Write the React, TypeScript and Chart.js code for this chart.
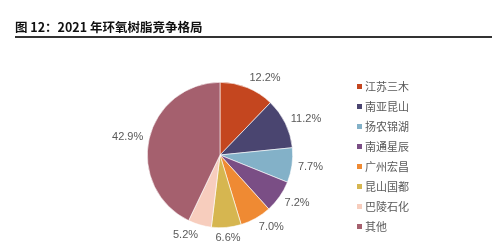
import React, { useEffect, useRef } from "react";
import { Chart, registerables } from "chart.js";

Chart.register(...registerables);

const TITLE = "图 12：2021 年环氧树脂竞争格局";
const companies = ["江苏三木", "南亚昆山", "扬农锦湖", "南通星辰", "广州宏昌", "昆山国都", "巴陵石化", "其他"];
const shares = [12.2, 11.2, 7.7, 7.2, 7.0, 6.6, 5.2, 42.9];
const colors = ["#C4461F", "#4A4570", "#83B1C8", "#7A4E85", "#EF8A33", "#D6B650", "#F7CDBD", "#A5606E"];

const labelPlugin = {
  id: "outLabels",
  afterDatasetsDraw(chart: any) {
    const ctx = chart.ctx;
    const meta = chart.getDatasetMeta(0);
    ctx.save();
    ctx.font = "11px 'Liberation Sans', Arial, sans-serif";
    ctx.fillStyle = "#595959";
    ctx.textAlign = "center";
    ctx.textBaseline = "middle";
    meta.data.forEach((arc: any, i: number) => {
      const p = arc.getProps(["x", "y", "startAngle", "endAngle", "outerRadius"], true);
      const a = (p.startAngle + p.endAngle) / 2;
      const txt = shares[i].toFixed(1) + "%";
      const w = ctx.measureText(txt).width;
      const h = 9;
      const dx = Math.cos(a);
      const dy = Math.sin(a);
      const R = p.outerRadius + 6;
      const ax = p.x + dx * R;
      const ay = p.y + dy * R;
      const kx = Math.abs(dx) < 0.2 ? dx : Math.sign(dx);
      ctx.fillText(txt, ax + (kx * w) / 2, ay + (dy * h) / 2);
    });
    ctx.restore();
  },
};

export default function App() {
  const ref = useRef<HTMLCanvasElement>(null);
  useEffect(() => {
    if (!ref.current) return;
    const chart = new Chart(ref.current, {
      type: "pie",
      data: {
        labels: companies,
        datasets: [
          {
            data: shares,
            backgroundColor: colors,
            borderColor: "#ffffff",
            borderWidth: 0.6,
          },
        ],
      },
      options: {
        responsive: false,
        animation: false,
        layout: { padding: { left: 147, right: 205, top: 82, bottom: 18 } },
        plugins: {
          legend: { display: false },
          tooltip: { enabled: false },
          title: { display: false },
        },
      },
      plugins: [labelPlugin],
    });
    return () => chart.destroy();
  }, []);

  return (
    <div
      style={{
        position: "fixed",
        left: 0,
        top: 0,
        width: 498,
        height: 246,
        background: "#ffffff",
        overflow: "hidden",
      }}
    >
      <canvas ref={ref} width={498} height={246} style={{ position: "absolute", left: 0, top: 0, width: 498, height: 246 }} />
      <div
        style={{
          position: "absolute",
          left: 15,
          top: 19,
          font: "bold 12.5px 'Noto Sans CJK SC', sans-serif",
          color: "#111",
          lineHeight: "16px",
          whiteSpace: "nowrap",
        }}
      >
        {TITLE}
      </div>
      <div style={{ position: "absolute", left: 15, top: 36, width: 477, height: 2, background: "#333" }} />
      <div style={{ position: "absolute", left: 357, top: 76 }}>
        {companies.map((c, i) => (
          <div key={c} style={{ display: "flex", alignItems: "center", height: 20 }}>
            <span style={{ width: 5, height: 5, background: colors[i], marginRight: 3, display: "inline-block" }} />
            <span
              style={{
                font: "11px 'Noto Sans CJK SC', sans-serif",
                color: "#595959",
                lineHeight: "20px",
                whiteSpace: "nowrap",
              }}
            >
              {c}
            </span>
          </div>
        ))}
      </div>
    </div>
  );
}
